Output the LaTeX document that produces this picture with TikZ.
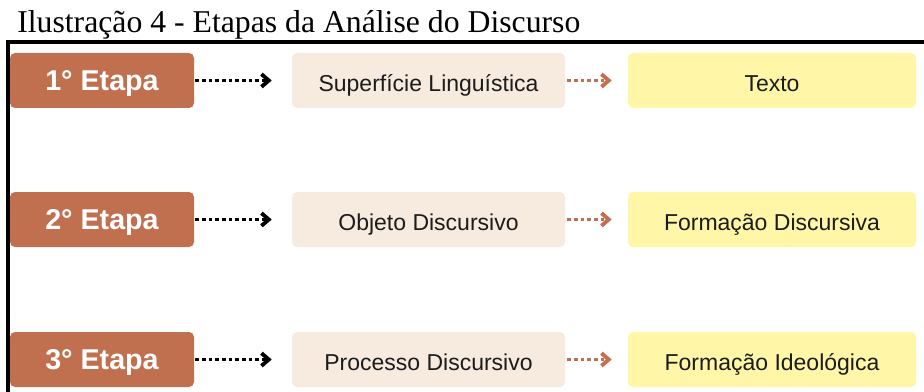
\documentclass[tikz,border=0pt]{standalone}
\usepackage{fontspec}
\setmainfont{Liberation Serif}
\setsansfont{Liberation Sans}
\usetikzlibrary{arrows.meta, positioning}

\definecolor{tijolo}{RGB}{192,112,78}
\definecolor{areia}{RGB}{247,234,222}
\definecolor{palha}{RGB}{255,246,168}
\definecolor{tinta}{RGB}{28,28,28}
\definecolor{setacor}{RGB}{196,112,80}

\tikzset{
  etapabox/.style={fill=tijolo, rounded corners=3.75pt, minimum width=138pt, minimum height=41.25pt, inner sep=0pt, text height=15pt, text depth=0pt, text=white, font=\sffamily\bfseries\fontsize{21.5}{24}\selectfont},
  passobox/.style={fill=areia, rounded corners=3.75pt, minimum width=204.75pt, minimum height=41.25pt, inner sep=0pt, text height=16.5pt, text depth=0pt, text=tinta, font=\sffamily\fontsize{17.25}{20}\selectfont},
  fimbox/.style={passobox, fill=palha, minimum width=216pt},
  setapreta/.style={line width=2.9pt, dash pattern=on 2.7pt off 2.3pt, -{Straight Barb[length=5.5pt, width=9.5pt]}, shorten <=0.75pt, shorten >=15pt},
  setamarrom/.style={setapreta, draw=setacor, shorten <=1.5pt, shorten >=12pt}
}

\begin{document}
\begin{tikzpicture}[x=0.75pt, y=-0.75pt]
          \useasboundingbox (0,0) rectangle (924,392);

          % titulo e moldura
          \node [anchor=base west, inner sep=0pt, font=\fontsize{23.8}{28}\selectfont] (titulo) at (17,33) {Ilustração 4 - Etapas da Análise do Discurso};
          \draw [line width=3pt] (8,392) |- (924,42.5);

          \node [etapabox] (etapa1) at (102,80.5) {1° Etapa};
          \node [passobox] (passo1) at (428.5,80.5) {Superfície Linguística};
          \node [fimbox] (fim1) at (772,80.5) {Texto};

          \node [etapabox] (etapa2) at (102,219.5) {2° Etapa};
          \node [passobox] (passo2) at (428.5,219.5) {Objeto Discursivo};
          \node [fimbox] (fim2) at (772,219.5) {Formação Discursiva};

          \node [etapabox] (etapa3) at (102,359.5) {3° Etapa};
          \node [passobox] (passo3) at (428.5,359.5) {Processo Discursivo};
          \node [fimbox] (fim3) at (772,359.5) {Formação Ideológica};

          \draw [setapreta] (etapa1) -- (passo1);
          \draw [setamarrom] (passo1) -- (fim1);

          \draw [setapreta] (etapa2) -- (passo2);
          \draw [setamarrom] (passo2) -- (fim2);

          \draw [setapreta] (etapa3) -- (passo3);
          \draw [setamarrom] (passo3) -- (fim3);
\end{tikzpicture}
\end{document}
